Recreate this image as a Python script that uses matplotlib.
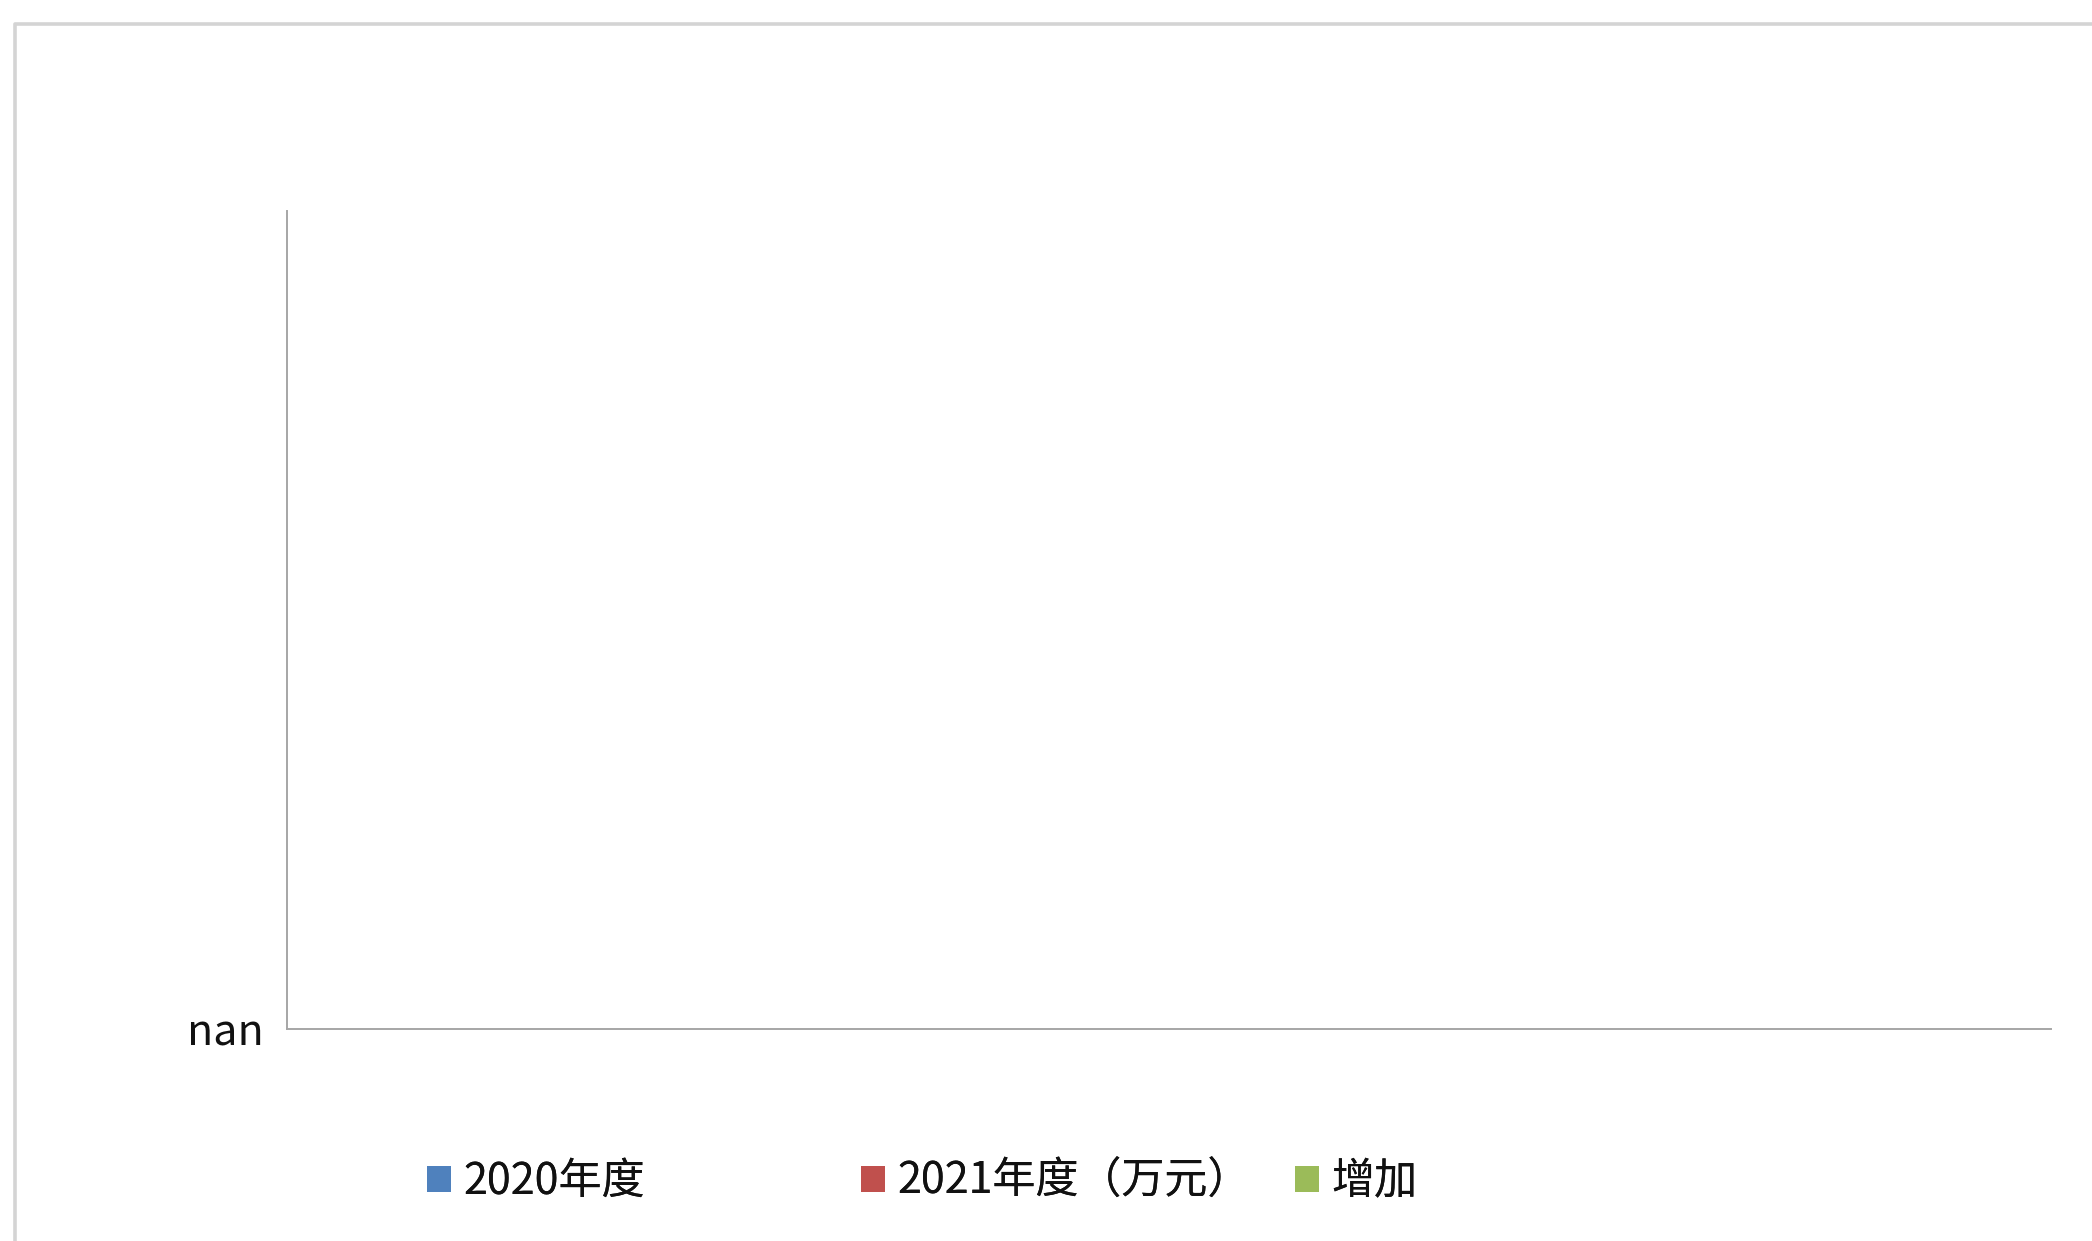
import numpy as np
import matplotlib
matplotlib.use('Agg')
import matplotlib.pyplot as plt
from matplotlib.lines import Line2D

plt.rcParams['font.family'] = ['Noto Sans CJK SC', 'DejaVu Sans']

# data (the source chart had no valid numbers, every value is NaN)
categories = ['']
series_names = ['2020年度', '2021年度（万元）', '增加']
vals_2020 = [np.nan]
vals_2021 = [np.nan]
vals_diff = [np.nan]
ytick_values = [0]
ytick_labels = ['nan']

colors = ['#4F81BD', '#C0504D', '#9BBB59']
W, H = 2092, 1241

fig = plt.figure(figsize=(W / 100, H / 100), dpi=100)
fig.patch.set_facecolor('white')

# outer chart border (only top and left visible in the crop)
fig.add_artist(Line2D([15 / W, 15 / W, 1.0], [0.0, 1 - 24 / H, 1 - 24 / H],
                      transform=fig.transFigure, color='#d4d4d4', lw=2.6))

ax = fig.add_axes([287 / W, 212 / H, (2051 - 287) / W, (1029 - 211) / H])

x = np.arange(len(categories))
bw = 0.25
handles = []
for i, (vals, name) in enumerate(zip([vals_2020, vals_2021, vals_diff], series_names)):
    b = ax.bar(x + (i - 1) * bw, vals, bw, color=colors[i], label=name)
    handles.append(b)

ax.set_xlim(-0.5, len(categories) - 0.5)
ax.set_ylim(0, 1)
ax.set_xticks([])
ax.set_yticks(ytick_values)
ax.set_yticklabels(ytick_labels, fontsize=31, color='#111111')
ax.tick_params(axis='y', length=0, pad=17)
for lbl in ax.get_yticklabels():
    lbl.set_y(-0.004)
for s in ['top', 'right']:
    ax.spines[s].set_visible(False)
for s in ['left', 'bottom']:
    ax.spines[s].set_color('#a6a6a6')
    ax.spines[s].set_linewidth(1.4)

# legend: evenly spaced entries like the office chart legend
leg_x0 = 427
leg_pitch = 434
for i, h in enumerate(handles):
    lg = fig.legend([h], [series_names[i]], loc='center left',
                    bbox_to_anchor=((leg_x0 + i * leg_pitch) / W, 59 / H),
                    frameon=False, fontsize=31, borderpad=0, borderaxespad=0,
                    handlelength=0.55, handleheight=0.55, handletextpad=0.3,
                    labelcolor='#111111')
    fig.add_artist(lg)

fig.savefig('out.png', dpi=100, facecolor='white')
